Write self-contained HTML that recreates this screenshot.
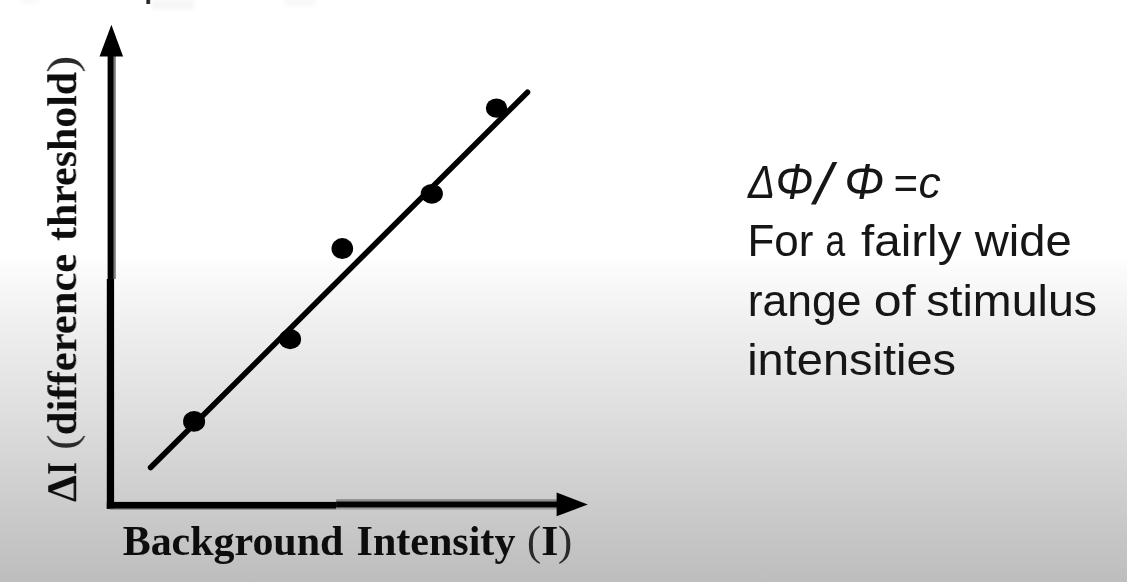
<!DOCTYPE html>
<html>
<head>
<meta charset="utf-8">
<title>Weber fraction</title>
<style>
html,body{margin:0;padding:0;background:#fff;}
body{width:1127px;height:582px;overflow:hidden;position:relative;}
#bg{position:absolute;left:0;top:0;width:1127px;height:582px;
background:linear-gradient(to bottom,rgb(255,255,255) 0px,rgb(255,255,255) 256px,rgb(252,252,252) 265px,rgb(248,248,248) 285px,rgb(240,240,240) 320px,rgb(235.5,235.5,235.5) 345px,rgb(228,228,228) 385px,rgb(222,222,222) 415px,rgb(217,217,217) 440px,rgb(211,211,211) 470px,rgb(205,205,205) 500px,rgb(199,199,199) 530px,rgb(193.5,193.5,193.5) 560px,rgb(189.5,189.5,189.5) 582px);}
svg{position:absolute;left:0;top:0;}
.ser{font-family:"Liberation Serif",serif;font-weight:bold;fill:#0c0c0c;}
.ser .p{font-weight:normal;fill:#2a2a2a;}
.san{font-family:"Liberation Sans",sans-serif;fill:#141414;}
</style>
</head>
<body>
<div id="bg"></div>
<svg width="1127" height="582" viewBox="0 0 1127 582">
  <defs>
    <filter id="soft" x="-2%" y="-2%" width="104%" height="104%"><feGaussianBlur stdDeviation="0.55"/></filter>
    <filter id="smudge" x="-20%" y="-100%" width="140%" height="300%"><feGaussianBlur stdDeviation="2"/></filter>
    <filter id="soft2" x="-2%" y="-2%" width="104%" height="104%"><feGaussianBlur stdDeviation="0.45"/></filter>
  </defs>
  <!-- cropped remnant of the slide text above -->
  <rect x="146.4" y="0" width="3.8" height="4" fill="#222" filter="url(#soft)"/>
  <g filter="url(#smudge)" fill="#f5f5f5"><rect x="22" y="0" width="18" height="3"/><rect x="152" y="0" width="42" height="9"/><rect x="285" y="0" width="30" height="5"/></g>
  <g filter="url(#soft)">
    <!-- y axis -->
    <rect x="107.6" y="50" width="6.2" height="230" fill="#000"/>
    <rect x="113.8" y="56" width="2" height="223" fill="#7c7c7c"/>
    <rect x="106.8" y="279" width="7.3" height="229.6" fill="#000"/>
    <polygon points="111.4,24.8 123.1,56.4 99.5,56.4" fill="#000"/>
    <!-- x axis -->
    <rect x="106.8" y="501.9" width="229.4" height="6.9" fill="#000"/>
    <rect x="110" y="508.7" width="226" height="1.1" fill="#8f8f8f"/>
    <rect x="336.1" y="499.2" width="221" height="2.4" fill="#8a8a8a"/>
    <rect x="336.1" y="501.5" width="222" height="6.2" fill="#000"/>
    <rect x="336.1" y="507.7" width="221" height="1.9" fill="#9a9a9a"/>
    <polygon points="587.8,504.6 556.6,492.6 556.6,516.2" fill="#000"/>
    <!-- fitted line -->
    <line x1="150.6" y1="467.6" x2="527.5" y2="92.2" stroke="#000" stroke-width="5.6" stroke-linecap="round"/>
    <!-- data points -->
    <g fill="#000">
      <ellipse cx="194.1" cy="421.4" rx="11" ry="10.4"/>
      <ellipse cx="290.1" cy="339.2" rx="11" ry="10.1"/>
      <ellipse cx="342.3" cy="248.6" rx="10.8" ry="10.5"/>
      <ellipse cx="431.8" cy="193.8" rx="11.1" ry="9.9"/>
      <ellipse cx="496.5" cy="108.1" rx="10.7" ry="9.7"/>
    </g>
  </g>
  <!-- axis labels -->
  <g filter="url(#soft)">
  <text class="ser" y="554.8" font-size="41.6"><tspan x="122.67" textLength="220.69" lengthAdjust="spacingAndGlyphs">Background</tspan> <tspan x="356.54" textLength="158.87" lengthAdjust="spacingAndGlyphs">Intensity</tspan> <tspan x="527.11" textLength="14.07" lengthAdjust="spacingAndGlyphs" class="p">(</tspan><tspan x="541.18" textLength="17.10" lengthAdjust="spacingAndGlyphs">I</tspan><tspan x="558.02" textLength="14.22" lengthAdjust="spacingAndGlyphs" class="p">)</tspan></text>
  <text class="ser" transform="translate(76.2,502.0) rotate(-90)" y="0" font-size="42.8"><tspan x="-0.03" textLength="26.86" lengthAdjust="spacingAndGlyphs">Δ</tspan><tspan x="27.33" textLength="12.62" lengthAdjust="spacingAndGlyphs">I</tspan> <tspan x="52.16" textLength="15.33" lengthAdjust="spacingAndGlyphs" class="p">(</tspan><tspan x="66.80" textLength="181.42" lengthAdjust="spacingAndGlyphs">difference</tspan> <tspan x="261.07" textLength="169.10" lengthAdjust="spacingAndGlyphs">threshold</tspan><tspan x="429.25" textLength="17.16" lengthAdjust="spacingAndGlyphs" class="p">)</tspan></text>
  </g>
  <!-- slide text -->
  <g filter="url(#soft2)">
  <text class="san" y="197.7" font-style="italic" font-size="46"><tspan x="747.91" textLength="27.16" lengthAdjust="spacingAndGlyphs" font-size="46">Δ</tspan><tspan x="775.48" textLength="37.89" lengthAdjust="spacingAndGlyphs" font-size="50" dy="1.5">Φ</tspan><tspan x="814.57" textLength="17.46" lengthAdjust="spacingAndGlyphs" font-size="58" dy="5.2">/</tspan> <tspan x="844.23" textLength="40.04" lengthAdjust="spacingAndGlyphs" font-size="50" dy="-5.2">Φ</tspan> <tspan x="893.09" textLength="24.43" lengthAdjust="spacingAndGlyphs" font-size="46" dy="-0.5">=</tspan><tspan x="918.46" textLength="22.28" lengthAdjust="spacingAndGlyphs" font-size="44" dy="-0.6">c</tspan></text>
  <text class="san" y="255.6" font-size="44.6"><tspan x="747.39" textLength="65.88" lengthAdjust="spacingAndGlyphs">For</tspan> <tspan x="825.58" textLength="19.67" lengthAdjust="spacingAndGlyphs">a</tspan> <tspan x="860.92" textLength="100.58" lengthAdjust="spacingAndGlyphs">fairly</tspan> <tspan x="974.77" textLength="97.07" lengthAdjust="spacingAndGlyphs">wide</tspan></text>
  <text class="san" y="315.6" font-size="44.6"><tspan x="747.73" textLength="113.71" lengthAdjust="spacingAndGlyphs">range</tspan> <tspan x="873.79" textLength="41.80" lengthAdjust="spacingAndGlyphs">of</tspan> <tspan x="926.27" textLength="170.83" lengthAdjust="spacingAndGlyphs">stimulus</tspan></text>
  <text class="san" y="375.0" font-size="44.6"><tspan x="747.18" textLength="208.83" lengthAdjust="spacingAndGlyphs">intensities</tspan></text>
  </g>
</svg>
</body>
</html>
